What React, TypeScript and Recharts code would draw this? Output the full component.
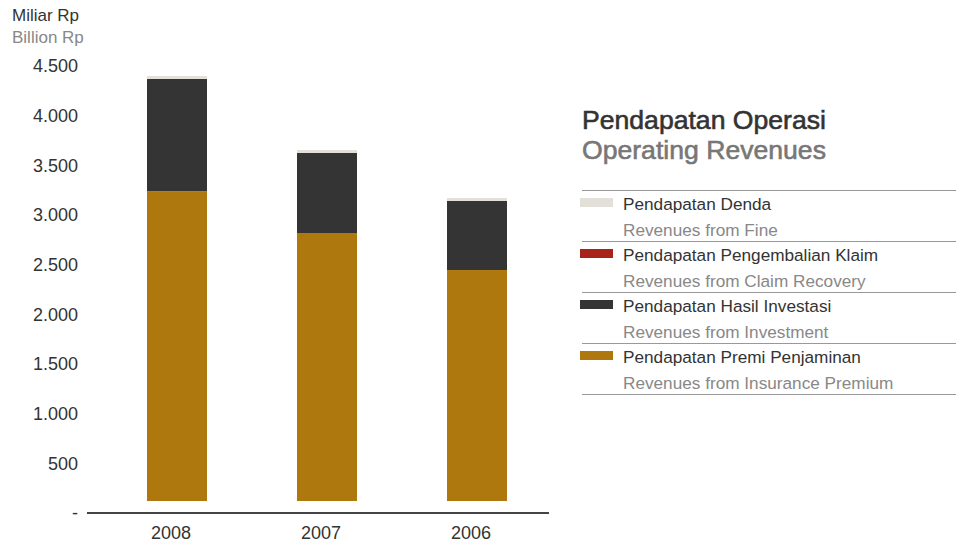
import { BarChart, Bar, XAxis, YAxis } from "recharts"

const YEARS = ["2008", "2007", "2006"]
const PREMI = [3241, 2819, 2446]
const INVESTASI = [1128, 805, 695]
const KLAIM = [0, 0, 0]
const DENDA = [30, 30, 30]
const Y_TICKS = [0, 500, 1000, 1500, 2000, 2500, 3000, 3500, 4000, 4500]

const SERIES = [
  { key: "denda", id: "Pendapatan Denda", en: "Revenues from Fine", color: "#e3e0d9" },
  { key: "klaim", id: "Pendapatan Pengembalian Klaim", en: "Revenues from Claim Recovery", color: "#a8231a" },
  { key: "investasi", id: "Pendapatan Hasil Investasi", en: "Revenues from Investment", color: "#343434" },
  { key: "premi", id: "Pendapatan Premi Penjaminan", en: "Revenues from Insurance Premium", color: "#ae780f" },
]

const rows = YEARS.map((year, i) => ({
  year,
  premi: PREMI[i],
  investasi: INVESTASI[i],
  klaim: KLAIM[i],
  denda: DENDA[i],
}))

const FONT = "'Liberation Sans', Arial, sans-serif"

// angka ribuan pakai titik, nol jadi "-"
const fmt = (v: number) => (v === 0 ? "-" : v.toLocaleString("en-US").replace(/,/g, "."))

// batang paling bawah diangkat sedikit dari garis sumbu
function BaseBar(props: any) {
  const { x, y, width, height, fill } = props
  const h = Math.max(0, height - 12)
  return <rect x={x} y={y} width={width} height={h} fill={fill} />
}

export default function App() {
  return (
    <div
      style={{
        position: "absolute",
        left: 0,
        top: 0,
        width: 956,
        height: 544,
        background: "#fff",
        fontFamily: FONT,
        overflow: "hidden",
      }}
    >
      <div style={{ position: "absolute", left: 12, top: 6, fontSize: 17, color: "#333", lineHeight: "20px" }}>
        Miliar Rp
      </div>
      <div style={{ position: "absolute", left: 12, top: 28, fontSize: 17, color: "#888", lineHeight: "20px" }}>
        Billion Rp
      </div>

      <BarChart
        width={956}
        height={544}
        data={rows}
        margin={{ top: 66, right: 407, bottom: 0, left: 0 }}
        barSize={60}
      >
        <XAxis
          dataKey="year"
          height={31}
          padding={{ left: 15, right: -3 }}
          tickLine={false}
          tickSize={0}
          tickMargin={13}
          axisLine={{ stroke: "#444", strokeWidth: 2 }}
          tick={{ fontSize: 18, fill: "#333", fontFamily: FONT, dx: -6 }}
        />
        <YAxis
          width={87}
          domain={[0, 4500]}
          ticks={Y_TICKS}
          tickFormatter={fmt}
          axisLine={false}
          tickLine={false}
          tickSize={0}
          tickMargin={9}
          tick={{ fontSize: 18, fill: "#333", fontFamily: FONT }}
        />
        <Bar dataKey="premi" stackId="a" fill="#ae780f" shape={BaseBar} isAnimationActive={false} />
        <Bar dataKey="investasi" stackId="a" fill="#343434" isAnimationActive={false} />
        <Bar dataKey="klaim" stackId="a" fill="#a8231a" isAnimationActive={false} />
        <Bar dataKey="denda" stackId="a" fill="#e3e0d9" isAnimationActive={false} />
      </BarChart>

      <div
        style={{
          position: "absolute",
          left: 582,
          top: 104,
          fontSize: 26.6,
          color: "#333",
          lineHeight: "32px",
          WebkitTextStroke: "0.6px #333",
          whiteSpace: "nowrap",
        }}
      >
        Pendapatan Operasi
      </div>
      <div
        style={{
          position: "absolute",
          left: 582,
          top: 134,
          fontSize: 26.6,
          color: "#777",
          lineHeight: "32px",
          WebkitTextStroke: "0.6px #777",
          whiteSpace: "nowrap",
        }}
      >
        Operating Revenues
      </div>

      <div style={{ position: "absolute", left: 582, top: 190, width: 374 }}>
        {SERIES.map((s) => (
          <div
            key={s.key}
            style={{ position: "relative", height: 51, borderTop: "1px solid #999", boxSizing: "border-box" }}
          >
            <div style={{ position: "absolute", left: -2, top: 7, width: 33, height: 9, background: s.color }} />
            <div style={{ position: "absolute", left: 41, top: 3, fontSize: 17.2, color: "#333", lineHeight: "20px", whiteSpace: "nowrap" }}>
              {s.id}
            </div>
            <div style={{ position: "absolute", left: 41, top: 29, fontSize: 17.2, color: "#888", lineHeight: "20px", whiteSpace: "nowrap" }}>
              {s.en}
            </div>
          </div>
        ))}
        <div style={{ borderTop: "1px solid #999" }} />
      </div>
    </div>
  )
}
